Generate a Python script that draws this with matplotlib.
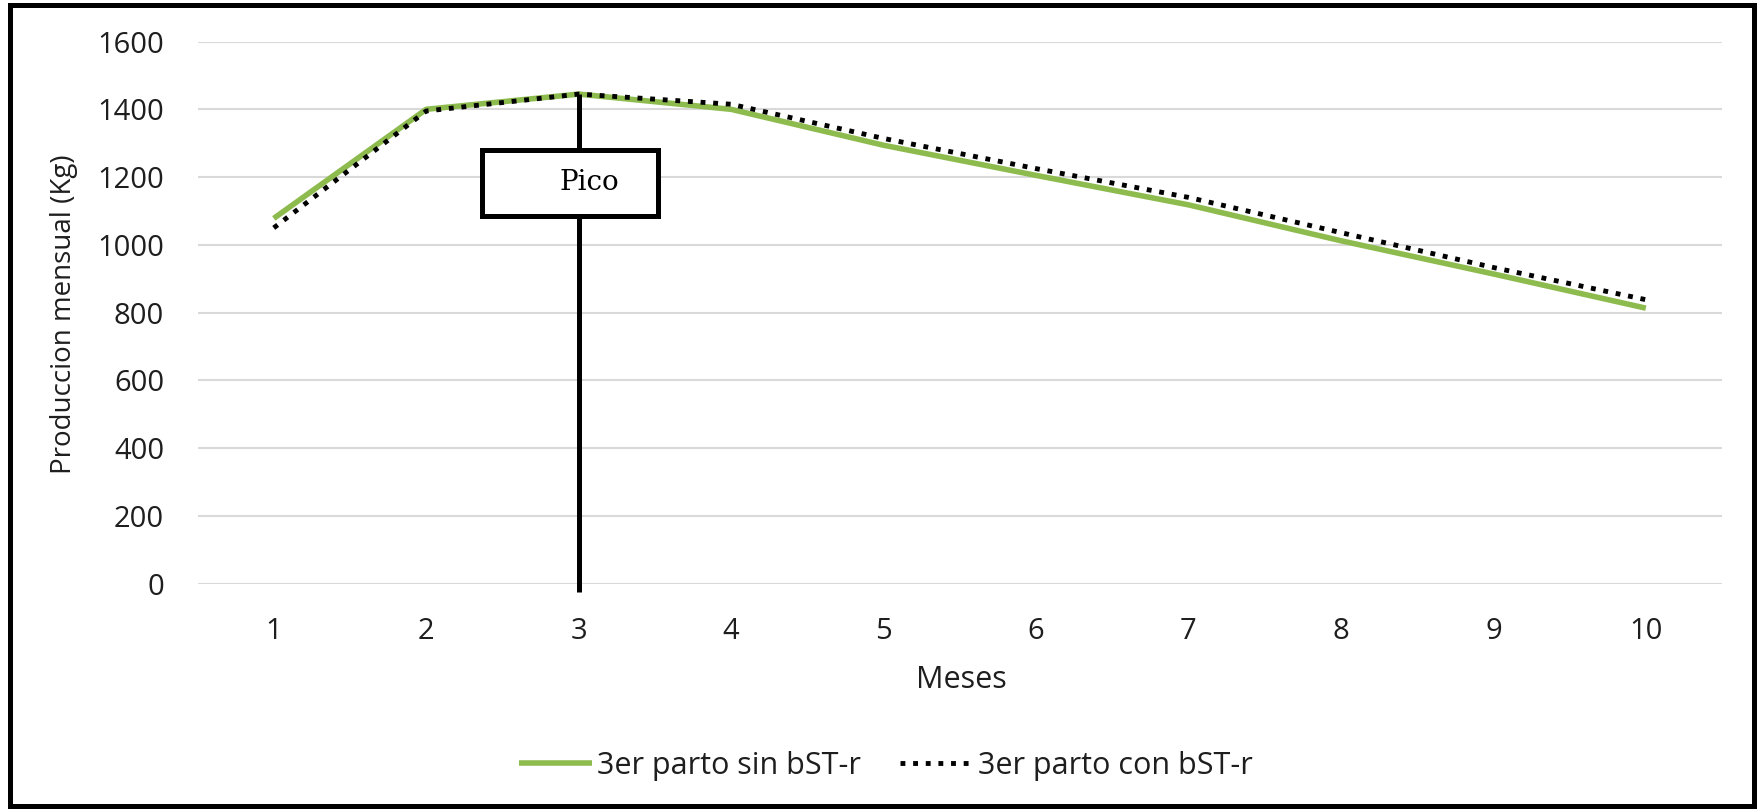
import matplotlib.pyplot as plt
from matplotlib.patches import Rectangle

# monthly production, 3rd calving, with and without bST-r
meses = [1, 2, 3, 4, 5, 6, 7, 8, 9, 10]
sin_bst = [1078, 1400, 1445, 1400, 1294, 1205, 1118, 1012, 914, 813]
con_bst = [1050, 1395, 1445, 1415, 1314, 1225, 1140, 1036, 933, 838]
y_ticks = [0, 200, 400, 600, 800, 1000, 1200, 1400, 1600]
mes_pico = 3

label_font = "Open Sans"
txt_color = "#1e1e1e"
green = "#8dbb4e"

fig = plt.figure(figsize=(17.59, 8.09), dpi=100)
ax = fig.add_axes([0.1123, 0.2787, 0.8667, 0.6699])

ax.plot(meses, sin_bst, color=green, lw=4, solid_capstyle="butt",
        label="3er parto sin bST-r", zorder=3)
ax.plot(meses, con_bst, color="black", lw=3.5, linestyle=(0, (1, 1.6)),
        dash_capstyle="butt", label="3er parto con bST-r", zorder=4)

# peak marker: vertical line at the peak month with a label box on it
pico_y = max(sin_bst)
ax.plot([mes_pico, mes_pico], [-25, pico_y], color="black", lw=3.6,
        clip_on=False, zorder=5, solid_capstyle="butt")
ax.add_patch(Rectangle((2.366, 1085), 3.52 - 2.366, 1280 - 1085,
                       facecolor="white", edgecolor="black", lw=3.6, zorder=6))
ax.text(3.07, 1183, "Pico", fontsize=20, family="DejaVu Serif",
        ha="center", va="center", zorder=7)

ax.set_xlim(0.5, 10.5)
ax.set_ylim(0, 1600)
ax.set_xticks(meses)
ax.set_xticklabels([str(m) for m in meses])
ax.set_yticks(y_ticks)
ax.grid(axis="y", color="#d9d9d9", lw=1.5, zorder=0)
ax.set_axisbelow(True)
for s in ax.spines.values():
    s.set_visible(False)
ax.tick_params(length=0, labelsize=21, labelcolor=txt_color)
ax.tick_params(axis="y", pad=24)
ax.tick_params(axis="x", pad=24)
for lbl in ax.get_xticklabels() + ax.get_yticklabels():
    lbl.set_family(label_font)

fig.text(64 / 1759, 1 - 314 / 809, "Produccion mensual (Kg)", rotation=90,
         ha="center", va="center", fontsize=20, family=label_font, color=txt_color)
fig.text(961 / 1759, 1 - 680 / 809, "Meses", ha="center", va="center",
         fontsize=22, family=label_font, color=txt_color)

leg = fig.legend(loc="center", bbox_to_anchor=(886 / 1759, 1 - 766 / 809),
                 ncol=2, frameon=False, handlelength=2.4, handletextpad=0.15,
                 columnspacing=1.3, prop={"family": label_font, "size": 22})
for t in leg.get_texts():
    t.set_color(txt_color)

# outer frame round the whole figure
fig.patches.append(Rectangle((10 / 1759, 3 / 809), 1744 / 1759, 801 / 809,
                             transform=fig.transFigure, fill=False,
                             edgecolor="black", lw=3.6))

plt.savefig("out.png", dpi=100)
